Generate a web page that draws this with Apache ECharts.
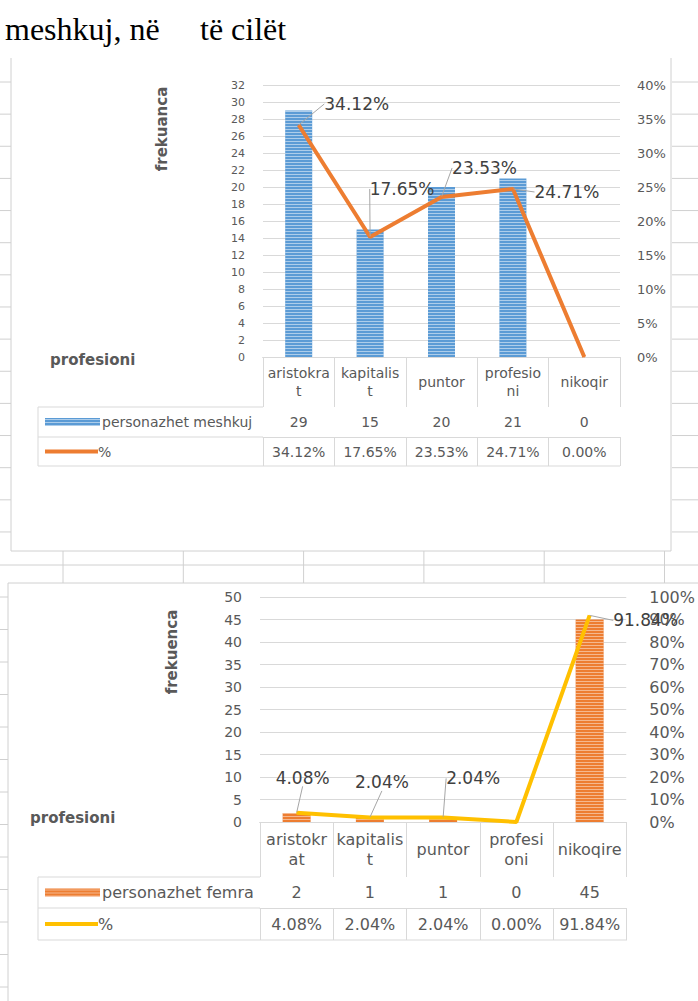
<!DOCTYPE html>
<html>
<head>
<meta charset="utf-8">
<script src="https://cdn.jsdelivr.net/npm/echarts@6/dist/echarts.min.js"></script>
<style>
html,body{margin:0;padding:0;background:#fff;}
#main{width:698px;height:1001px;}
</style>
</head>
<body>
<div id="main"></div>
<script>
// te dhenat
var cats1=["aristokra\nt","kapitalis\nt","puntor","profesio\nni","nikoqir"];
var males=[29,15,20,21,0];
var malesPct=[34.12,17.65,23.53,24.71,0];
var cats2=["aristokr\nat","kapitalis\nt","puntor","profesi\noni","nikoqire"];
var females=[2,1,1,0,45];
var femalesPct=[4.08,2.04,2.04,0,91.84];
var freqAxis1=[0,32,2];
var pctAxis1=[0,40,5];
var freqAxis2=[0,50,5];
var pctAxis2=[0,100,10];
var name1="personazhet meshkuj";
var name2="personazhet femra";

// pozicionet e etiketave (zhvendosje nga pika)
var lblOff1=[[58,-7],[32,-34],[43,-15],[54,17],[0,0]];
var lblOff2=[[6,-21],[12,-21],[30,-25],[0,0],[56,19]];

var FF="DejaVu Sans";
var GRID="#d9d9d9";
var SHEET="#d0d0d0";
var TXT="#595959";

var g1={left:263,top:85,width:357,height:272};
var g2={left:260,top:597,width:367,height:225};
var t1={left:38,head:50,row:30,row2:29,font:14};
var t2={left:38,head:55,row:31,row2:32,font:16};

var $={extend:function(a,b){var r={};for(var k in b){r[k]=b[k];}for(var k2 in a){r[k2]=a[k2];}return r;}};

function tableAxes(gi,cats,vals,pcts,t){
	var lbl={interval:0,verticalAlign:"middle",color:TXT,fontFamily:FF,fontSize:t.font};
	return [
		{type:"category",gridIndex:gi,data:cats,position:"bottom",
			axisLine:{lineStyle:{color:"#bfbfbf"}},
			axisTick:{show:true,interval:0,length:t.head,lineStyle:{color:GRID}},
			axisLabel:$.extend({margin:t.head/2,lineHeight:t.font+4},lbl)},
		{type:"category",gridIndex:gi,data:vals.map(String),position:"bottom",offset:t.head,
			axisLine:{lineStyle:{color:GRID}},
			axisTick:{show:true,interval:0,length:t.row,lineStyle:{color:GRID}},
			axisLabel:$.extend({margin:t.row/2},lbl)},
		{type:"category",gridIndex:gi,data:pcts.map(function(v){return v.toFixed(2)+"%";}),position:"bottom",offset:t.head+t.row,
			axisLine:{lineStyle:{color:GRID}},
			axisTick:{show:true,interval:0,length:t.row2,lineStyle:{color:GRID}},
			axisLabel:$.extend({margin:t.row2/2},lbl)}
	];
}

function valAxis(gi,rng,pos,margin,size,pct,split){
	return {type:"value",gridIndex:gi,position:pos,min:rng[0],max:rng[1],interval:rng[2],
		axisLine:{show:false},axisTick:{show:false},
		axisLabel:{margin:margin,fontSize:size,color:TXT,fontFamily:FF,formatter:pct?"{value}%":"{value}"},
		splitLine:{show:split,lineStyle:{color:GRID}}};
}

function barSeries(xi,yi,vals,color,stripe,w){
	return {type:"bar",xAxisIndex:xi,yAxisIndex:yi,data:vals,barWidth:w,z:2,
		itemStyle:{color:color,decal:{symbol:"rect",symbolSize:1,dashArrayX:[1,0],dashArrayY:[1,2],color:stripe}}};
}

function lineSeries(xi,yi,pcts,color,offs){
	return {type:"line",xAxisIndex:xi,yAxisIndex:yi,z:5,
		data:pcts.map(function(v){return {value:v,label:{show:v>0},labelLine:{show:v>0}};}),
		symbol:"circle",symbolSize:1,
		lineStyle:{color:color,width:4},itemStyle:{color:color},
		label:{show:true,position:"top",distance:5,fontFamily:FF,fontSize:17,color:"#404040",
			formatter:function(p){return p.value.toFixed(2)+"%";}},
		labelLine:{show:true,lineStyle:{color:"#a6a6a6",width:1}},
		labelLayout:function(p){var o=offs[p.dataIndex];return {dx:o[0],dy:o[1]};}
	};
}

function hline(x1,x2,y,c){return {type:"line",silent:true,shape:{x1:x1,y1:y,x2:x2,y2:y},style:{stroke:c||GRID,lineWidth:1}};}
function vline(x,y1,y2,c){return {type:"line",silent:true,shape:{x1:x,y1:y1,x2:x,y2:y2},style:{stroke:c||GRID,lineWidth:1}};}
function txt(x,y,s,font,color,align,rot){
	return {type:"text",silent:true,x:x,y:y,rotation:rot||0,
		style:{text:s,font:font,fill:color||TXT,align:align||"left",verticalAlign:"middle"}};
}

function legendBox(g,t,name,barC,stripe,lineC){
	var yb=g.top+g.height;
	var r1=yb+t.head, r2=r1+t.row, r3=r2+t.row2;
	var gx=g.left+g.width;
	var out=[hline(t.left,g.left,r1),hline(t.left,g.left,r2),hline(t.left,gx,r3),vline(t.left,r1,r3)];
	var c1=r1+t.row/2, c2=r2+t.row2/2;
	out.push({type:"rect",silent:true,shape:{x:t.left+7,y:c1-4,width:55,height:8},style:{fill:barC}});
	for(var y=c1-3;y<c1+4;y+=3){
		out.push(hline(t.left+7,t.left+62,y+0.5,stripe));
	}
	out.push(hline(t.left+7,t.left+60,c2,lineC));
	out[out.length-1].style.lineWidth=4;
	out.push(txt(t.left+64,c1,name,t.font+"px '"+FF+"'"));
	out.push(txt(t.left+60,c2,"%",t.font+"px '"+FF+"'"));
	return out;
}

var graphics=[];
// teksti i dokumentit
graphics.push(txt(5,29,"meshkuj, në","32px 'Liberation Serif'","#000"));
graphics.push(txt(200,29,"të cilët","32px 'Liberation Serif'","#000"));
// rrjeti i fletes
var k,y;
for(k=0;k<15;k++){
	y=82+k*32.14;
	graphics.push(hline(0,11,y,SHEET));
	graphics.push(hline(672,698,y,SHEET));
}
for(k=0;k<13;k++){
	y=597+k*32.5;
	graphics.push(hline(0,8,y,SHEET));
}
for(k=0;k<6;k++){
	graphics.push(vline(63+k*120.3,551,583,SHEET));
}
graphics.push(hline(0,698,565,SHEET));
// kornizat e grafikeve
graphics.push(vline(11,58,551,SHEET),vline(671,58,551,SHEET),hline(11,671,551,SHEET));
graphics.push(hline(8,698,583,SHEET),vline(8,583,1001,SHEET));
// titujt e boshteve
graphics.push(txt(162,129,"frekuanca","bold 15px '"+FF+"'",TXT,"center",Math.PI/2));
graphics.push(txt(50,360,"profesioni","bold 15px '"+FF+"'",TXT));
graphics.push(txt(172,652,"frekuenca","bold 15px '"+FF+"'",TXT,"center",Math.PI/2));
graphics.push(txt(30,818,"profesioni","bold 15px '"+FF+"'",TXT));
graphics=graphics.concat(legendBox(g1,t1,name1,"#5B9BD5","rgba(255,255,255,0.5)","#ED7D31"));
graphics=graphics.concat(legendBox(g2,t2,name2,"#ED7D31","rgba(255,255,255,0.45)","#FFC000"));

var option={
	animation:false,
	backgroundColor:"#fff",
	grid:[
		{left:g1.left,top:g1.top,width:g1.width,height:g1.height},
		{left:g2.left,top:g2.top,width:g2.width,height:g2.height}
	],
	xAxis:tableAxes(0,cats1,males,malesPct,t1).concat(tableAxes(1,cats2,females,femalesPct,t2)),
	yAxis:[
		valAxis(0,freqAxis1,"left",18,11,false,true),
		valAxis(0,pctAxis1,"right",17,13,true,false),
		valAxis(1,freqAxis2,"left",18,14,false,true),
		valAxis(1,pctAxis2,"right",23,16,true,false)
	],
	series:[
		barSeries(0,0,males,"#5B9BD5","rgba(255,255,255,0.5)",27),
		lineSeries(0,1,malesPct,"#ED7D31",lblOff1),
		barSeries(3,2,females,"#ED7D31","rgba(255,255,255,0.45)",28),
		lineSeries(3,3,femalesPct,"#FFC000",lblOff2)
	],
	graphic:graphics
};
var chart=echarts.init(document.getElementById("main"),null,{renderer:"svg"});
chart.setOption(option);
</script>
</body>
</html>
